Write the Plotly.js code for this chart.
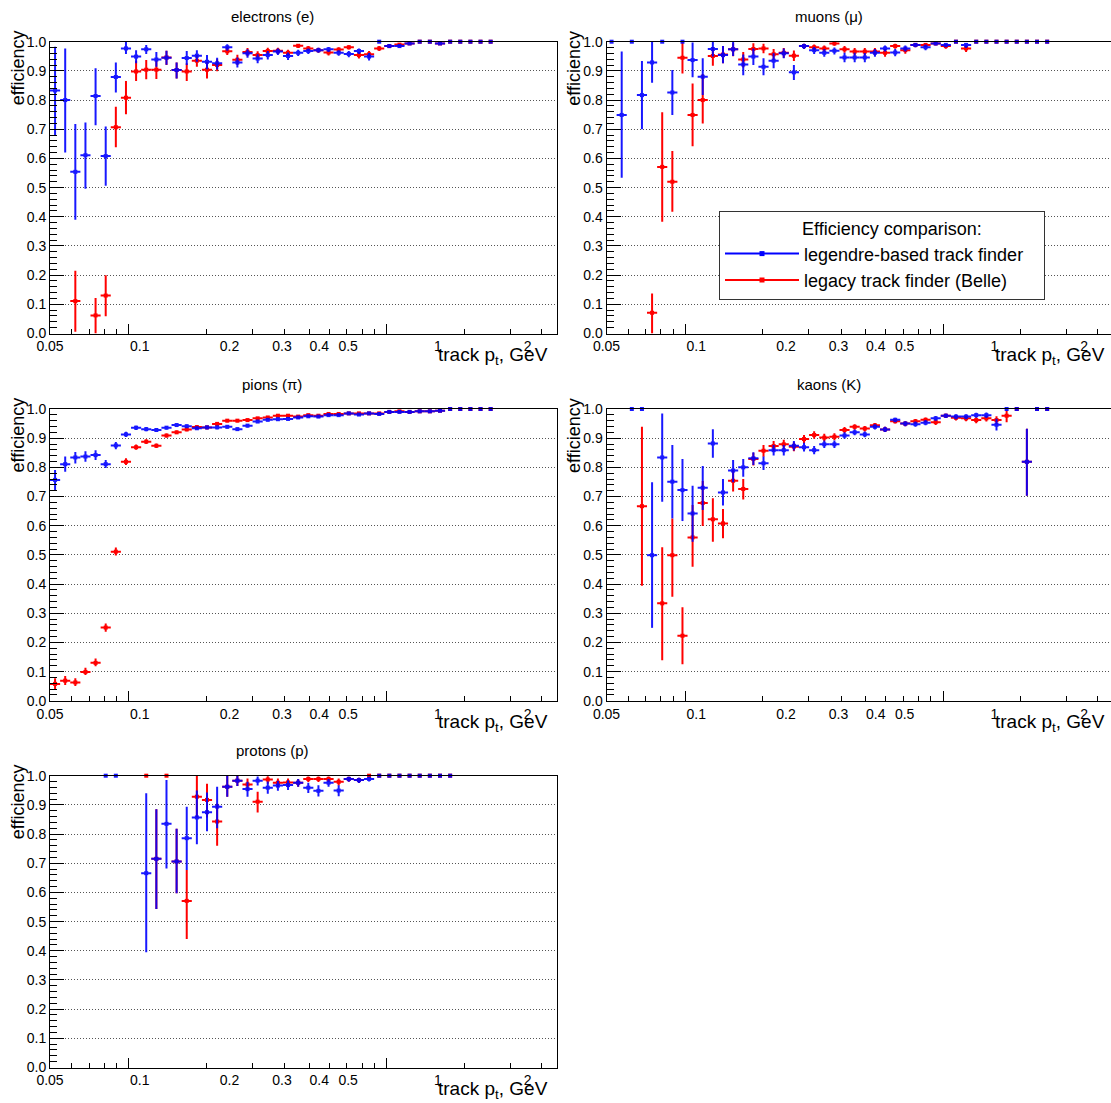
<!DOCTYPE html>
<html><head><meta charset="utf-8">
<script src="https://cdn.plot.ly/plotly-3.0.1.min.js"></script>
<style>html,body{margin:0;padding:0;background:#fff}#chart{width:1111px;height:1103px}</style>
</head><body><div id="chart"></div>
<script>
// ---------- binning (track pt, GeV) ----------
const binEdges = [0.05,0.05407,0.05847,0.06323,0.06837,0.07394,0.07995,0.08646,0.09349,0.1011,
  0.10933,0.11823,0.12785,0.13825,0.1495,0.16167,0.17483,0.18905,0.20444,0.22107,
  0.23906,0.25852,0.27955,0.3023,0.3269,0.3535,0.38227,0.41338,0.44702,0.48339,
  0.52273,0.56527,0.61127,0.661,0.71478,0.77295,0.83584,0.90386,0.97764,1.05723,
  1.14321,1.23622,1.33684,1.44561,1.56325];
const xLabelVals = [0.05,0.1,0.2,0.3,0.4,0.5,1,2];
const xLabelText = ['0.05','0.1','0.2','0.3','0.4','0.5','1','2'];
const xMajorTicks = [0.0917,0.6725];
const xMinorTicks = [0.0592,0.0677,0.0760,0.0838,0.1672,0.238,0.306,0.3696,0.4328,0.4945,0.5573,0.6124,1.2277,1.7466,2.224];

const panelTitles = ['electrons (e)','muons (\u03bc)','pions (\u03c0)','kaons (K)','protons (p)'];
const seriesNames = ['legendre-based track finder','legacy track finder (Belle)'];

// ---------- electrons ----------
const eleLegendreEff = [0.833,0.800,0.554,0.611,0.814,0.608,0.879,0.977,0.949,0.974, 0.939,0.945,0.903,0.944,0.952,0.931,0.926,0.981,0.929,0.960, 0.942,0.954,0.966,0.951,0.962,0.968,0.971,0.974,0.962,0.958, 0.968,0.949,1.0,0.985,0.985,0.994,1.0,1.0,0.994,1.0, 1.0,1.0,1.0,1.0];
const eleLegendreLo = [0.68,0.62,0.39,0.496,0.714,0.506,0.826,0.958,0.926,0.958, 0.914,0.921,0.874,0.92,0.931,0.906,0.905,0.969,0.912,0.945, 0.926,0.939,0.954,0.937,0.951,0.958,0.962,0.965,0.952,0.947, 0.958,0.936,null,0.978,0.978,0.989,null,null,0.989,null, null,null,null,null];
const eleLegendreHi = [0.983,0.977,0.718,0.723,0.909,0.709,0.929,1.0,0.971,0.989, 0.965,0.969,0.929,0.968,0.971,0.954,0.945,0.991,0.946,0.974, 0.957,0.968,0.977,0.963,0.972,0.977,0.979,0.982,0.971,0.968, 0.977,0.961,null,0.991,0.991,0.998,null,null,0.998,null, null,null,null,null];
const eleLegacyEff = [null,null,0.111,null,0.062,0.13,0.707,0.808,0.898,0.904, 0.904,0.946,0.903,0.898,0.935,0.904,0.92,0.967,0.938,0.965, 0.954,0.968,0.969,0.962,0.986,0.977,0.971,0.963,0.973,0.981, 0.954,0.957,0.977,0.985,0.99,0.994,1.0,1.0,0.994,1.0, 1.0,1.0,1.0,1.0];
const eleLegacyLo = [null,null,0.006,null,0.0,0.059,0.638,0.751,0.865,0.871, 0.872,0.92,0.874,0.865,0.914,0.874,0.899,0.954,0.92,0.95, 0.94,0.956,0.958,0.951,0.978,0.968,0.962,0.953,0.964,0.973, 0.942,0.945,0.968,0.978,0.984,0.989,null,null,0.989,null, null,null,null,null];
const eleLegacyHi = [null,null,0.215,null,0.122,0.2,0.777,0.865,0.935,0.937, 0.935,0.969,0.929,0.926,0.954,0.931,0.94,0.983,0.955,0.978, 0.967,0.979,0.979,0.972,0.992,0.985,0.979,0.972,0.981,0.988, 0.965,0.968,0.985,0.991,0.995,0.998,null,null,0.998,null, null,null,null,null];

// ---------- muons ----------
const muLegendreEff = [1.0,0.749,1.0,0.817,0.929,1.0,0.826,1.0,0.937,0.88, 0.975,0.954,0.974,0.922,0.949,0.914,0.935,0.96,0.895,0.985, 0.971,0.962,0.969,0.946,0.946,0.946,0.962,0.977,0.963,0.977, 0.989,0.981,0.994,0.989,1.0,0.989,1.0,1.0,1.0,1.0, 1.0,1.0,1.0,1.0];
const muLegendreLo = [null,0.534,null,0.70,0.859,null,0.749,null,0.878,0.817, 0.949,0.926,0.951,0.885,0.92,0.885,0.909,0.943,0.869,0.975, 0.958,0.948,0.956,0.93,0.93,0.93,0.948,0.966,0.95,0.966, 0.981,0.971,0.988,0.981,null,0.978,null,null,null,null, null,null,null,null];
const muLegendreHi = [null,0.966,null,0.934,1.0,null,0.903,null,0.997,0.943, 1.0,0.985,1.0,0.956,0.977,0.943,0.96,0.977,0.92,0.993, 0.982,0.975,0.98,0.962,0.962,0.961,0.975,0.987,0.975,0.987, 0.995,0.99,0.998,0.995,null,0.995,null,null,null,null, null,null,null,null];
const muLegacyEff = [null,null,null,null,0.071,0.571,0.52,0.945,0.749,0.80, 0.951,0.956,0.974,0.939,0.975,0.977,0.957,0.962,0.952,0.985, 0.981,0.977,0.994,0.974,0.966,0.966,0.966,0.962,0.985,0.971, 0.989,0.989,0.994,0.985,1.0,0.977,1.0,1.0,1.0,1.0, 1.0,1.0,1.0,1.0];
const muLegacyLo = [null,null,null,null,0.0,0.383,0.417,0.891,0.642,0.72, 0.918,0.926,0.95,0.912,0.955,0.96,0.938,0.945,0.934,0.975, 0.97,0.966,0.986,0.962,0.953,0.953,0.953,0.948,0.976,0.959, 0.981,0.981,0.988,0.976,null,0.965,null,null,null,null, null,null,null,null];
const muLegacyHi = [null,null,null,null,0.137,0.758,0.625,1.0,0.857,0.889, 0.982,0.985,0.995,0.965,0.995,0.993,0.975,0.978,0.97,0.993, 0.99,0.987,0.999,0.985,0.978,0.978,0.978,0.975,0.993,0.982, 0.995,0.995,0.998,0.992,null,0.988,null,null,null,null, null,null,null,null];

// ---------- pions ----------
const piLegendreEff = [0.757,0.811,0.834,0.837,0.842,0.811,0.875,0.913,0.936,0.931, 0.928,0.936,0.945,0.941,0.934,0.937,0.937,0.939,0.931,0.943, 0.957,0.963,0.965,0.966,0.971,0.975,0.974,0.979,0.979,0.985, 0.981,0.985,0.983,0.99,0.99,0.99,0.992,0.992,0.994,1.0, 1.0,1.0,1.0,1.0];
const piLegendreLo = [0.719,0.785,0.813,0.819,0.825,0.798,0.862,0.904,0.928,0.924, 0.921,0.93,0.939,0.935,0.928,0.931,0.931,0.933,0.925,0.937, 0.952,0.958,0.96,0.961,0.966,0.971,0.97,0.975,0.975,0.981, 0.977,0.981,0.979,0.987,0.987,0.987,0.989,0.989,0.991,null, null,null,null,null];
const piLegendreHi = [0.791,0.837,0.853,0.855,0.859,0.825,0.887,0.922,0.943,0.938, 0.935,0.942,0.951,0.947,0.94,0.943,0.943,0.945,0.937,0.949, 0.962,0.968,0.97,0.971,0.975,0.979,0.978,0.983,0.983,0.988, 0.985,0.988,0.987,0.993,0.993,0.993,0.995,0.995,0.997,null, null,null,null,null];
const piLegacyEff = [0.058,0.069,0.063,0.099,0.13,0.251,0.511,0.819,0.869,0.888, 0.874,0.909,0.92,0.93,0.938,0.937,0.949,0.96,0.96,0.962, 0.968,0.971,0.977,0.977,0.974,0.979,0.977,0.983,0.983,0.985, 0.985,0.985,0.985,0.99,0.992,0.99,0.992,0.992,0.994,1.0, 1.0,1.0,1.0,1.0];
const piLegacyLo = [0.04,0.054,0.051,0.088,0.118,0.237,0.498,0.808,0.86,0.88, 0.866,0.902,0.914,0.924,0.932,0.931,0.944,0.955,0.955,0.957, 0.964,0.967,0.973,0.973,0.97,0.975,0.973,0.979,0.979,0.981, 0.981,0.981,0.981,0.987,0.989,0.987,0.989,0.989,0.991,null, null,null,null,null];
const piLegacyHi = [0.077,0.085,0.077,0.113,0.145,0.265,0.525,0.831,0.878,0.896, 0.882,0.916,0.926,0.936,0.944,0.943,0.954,0.965,0.965,0.967, 0.972,0.975,0.981,0.981,0.978,0.983,0.981,0.987,0.987,0.989, 0.989,0.989,0.989,0.993,0.995,0.993,0.995,0.995,0.997,null, null,null,null,null];

// ---------- kaons ----------
const kLegendreEff = [null,null,1.0,1.0,0.499,0.834,0.751,0.722,0.642,0.73, 0.882,0.714,0.789,0.80,0.831,0.814,0.859,0.859,0.874,0.869, 0.859,0.879,0.879,0.909,0.92,0.913,0.939,0.93,0.963,0.95, 0.948,0.953,0.968,0.977,0.974,0.974,0.979,0.979,0.946,1.0, 1.0,0.819,1.0,1.0];
const kLegendreLo = [null,null,null,null,0.25,0.682,0.625,0.616,0.545,0.654, 0.833,0.669,0.749,0.768,0.808,0.791,0.841,0.841,0.858,0.854, 0.845,0.866,0.866,0.898,0.91,0.903,0.93,0.921,0.955,0.941, 0.939,0.944,0.96,0.969,0.965,0.965,0.97,0.969,0.926,null, null,0.703,null,null];
const kLegendreHi = [null,null,null,null,0.749,0.985,0.877,0.829,0.737,0.805, 0.931,0.76,0.825,0.829,0.852,0.837,0.877,0.877,0.89,0.884, 0.873,0.892,0.892,0.92,0.93,0.923,0.948,0.939,0.97,0.958, 0.957,0.962,0.976,0.984,0.982,0.982,0.987,0.988,0.967,null, null,0.932,null,null];
const kLegacyEff = [null,null,null,0.667,null,0.334,0.499,0.223,0.56,0.678, 0.622,0.608,0.754,0.726,0.829,0.857,0.873,0.879,0.871,0.897, 0.911,0.902,0.905,0.928,0.939,0.933,0.944,0.93,0.958,0.95, 0.958,0.963,0.955,0.977,0.97,0.968,0.962,0.968,0.962,0.977, 1.0,0.819,1.0,1.0];
const kLegacyLo = [null,null,null,0.394,null,0.139,0.357,0.125,0.459,0.599, 0.545,0.557,0.717,0.69,0.806,0.836,0.855,0.862,0.855,0.883, 0.898,0.889,0.893,0.917,0.929,0.923,0.935,0.921,0.95,0.941, 0.949,0.954,0.945,0.969,0.961,0.958,0.951,0.957,0.948,0.955, null,0.703,null,null];
const kLegacyHi = [null,null,null,0.939,null,0.526,0.625,0.321,0.671,0.753, 0.694,0.657,0.791,0.76,0.85,0.877,0.89,0.895,0.886,0.911, 0.924,0.915,0.917,0.938,0.948,0.942,0.952,0.939,0.966,0.958, 0.966,0.971,0.964,0.984,0.978,0.977,0.972,0.978,0.975,0.995, null,0.932,null,null];

// ---------- protons ----------
const pLegendreEff = [null,null,null,null,null,1.0,1.0,null,null,0.666, 0.715,0.835,0.706,0.786,0.857,0.875,0.894,0.962,0.983,0.954, 0.983,0.959,0.966,0.968,0.976,0.959,0.948,0.976,0.949,0.989, 0.985,0.989,1.0,1.0,1.0,1.0,1.0,1.0,1.0,1.0, null,null,null,null];
const pLegendreLo = [null,null,null,null,null,null,null,null,null,0.395, 0.543,0.682,0.597,0.677,0.765,0.81,0.82,0.928,0.965,0.928, 0.966,0.938,0.948,0.951,0.962,0.941,0.929,0.962,0.93,0.979, 0.975,0.98,null,null,null,null,null,null,null,null, null,null,null,null];
const pLegendreHi = [null,null,null,null,null,null,null,null,null,0.94, 0.885,0.985,0.818,0.894,0.949,0.942,0.962,1.0,1.0,0.979, 0.997,0.98,0.983,0.984,0.989,0.976,0.967,0.989,0.967,0.996, 0.993,0.996,null,null,null,null,null,null,null,null, null,null,null,null];
const pLegacyEff = [null,null,null,null,null,null,null,null,null,1.0, 0.715,1.0,0.706,0.571,0.928,0.917,0.843,0.962,0.983,0.97, 0.911,0.987,0.976,0.977,0.976,0.989,0.989,0.989,0.979,0.989, 0.985,1.0,1.0,1.0,1.0,1.0,1.0,1.0,1.0,1.0, null,null,null,null];
const pLegacyLo = [null,null,null,null,null,null,null,null,null,null, 0.543,null,0.597,0.44,0.857,0.857,0.76,0.928,0.965,0.948, 0.874,0.972,0.961,0.962,0.962,0.978,0.978,0.978,0.966,0.979, 0.975,null,null,null,null,null,null,null,null,null, null,null,null,null];
const pLegacyHi = [null,null,null,null,null,null,null,null,null,null, 0.885,null,0.818,0.677,1.0,0.972,0.905,1.0,1.0,0.99, 0.945,0.998,0.99,0.99,0.989,0.997,0.997,0.997,0.99,0.996, 0.993,null,null,null,null,null,null,null,null,null, null,null,null,null];

// ---------- drawing ----------
const FONT = 'Liberation Sans, Arial, Helvetica, sans-serif';
const BLUE = '#0000ff', RED = '#ff0000';
const W = 1111, H = 1103;

function effTrace(eff, lo, hi, color, xa, ya, opacity) {
  const x = [], y = [], ex = [], exm = [], ey = [], eym = [];
  for (let i = 0; i < eff.length; i++) {
    if (eff[i] === null) continue;
    const l = binEdges[i], h = binEdges[i + 1], c = Math.sqrt(l * h);
    const has = lo[i] !== null;
    x.push(c); y.push(eff[i]);
    ex.push(has ? h - c : 0); exm.push(has ? c - l : 0);
    ey.push(has ? hi[i] - eff[i] : 0); eym.push(has ? eff[i] - lo[i] : 0);
  }
  return {
    type: 'scatter', mode: 'markers', x, y, xaxis: xa, yaxis: ya,
    marker: {symbol: 'square', size: 4, color},
    error_x: {type: 'data', symmetric: false, array: ex, arrayminus: exm, color, thickness: 2, width: 0},
    error_y: {type: 'data', symmetric: false, array: ey, arrayminus: eym, color, thickness: 2, width: 0},
    cliponaxis: false, showlegend: false, hoverinfo: 'skip', opacity
  };
}

const panels = [
  {leg: [eleLegendreEff, eleLegendreLo, eleLegendreHi], old: [eleLegacyEff, eleLegacyLo, eleLegacyHi], col: 0, row: 0},
  {leg: [muLegendreEff, muLegendreLo, muLegendreHi], old: [muLegacyEff, muLegacyLo, muLegacyHi], col: 1, row: 0},
  {leg: [piLegendreEff, piLegendreLo, piLegendreHi], old: [piLegacyEff, piLegacyLo, piLegacyHi], col: 0, row: 1},
  {leg: [kLegendreEff, kLegendreLo, kLegendreHi], old: [kLegacyEff, kLegacyLo, kLegacyHi], col: 1, row: 1},
  {leg: [pLegendreEff, pLegendreLo, pLegendreHi], old: [pLegacyEff, pLegacyLo, pLegacyHi], col: 0, row: 2}
];

// frame geometry in pixels
const colLeft = [50, 606.5], frameW = 506.5;
const rowTop = [41.7, 409, 775.7], frameH = 291.8;
const logLo = Math.log10(0.05), logHi = Math.log10(2.5);

const data = [];
const layout = {
  width: W, height: H, margin: {l: 0, r: 0, t: 0, b: 0, autoexpand: false},
  paper_bgcolor: '#fff', plot_bgcolor: '#fff',
  font: {family: FONT, color: '#000'},
  showlegend: true,
  legend: {
    x: 719 / W, y: 1 - 211 / H, xanchor: 'left', yanchor: 'top',
    bgcolor: '#fff', bordercolor: '#333', borderwidth: 1,
    font: {family: FONT, size: 18, color: '#000'},
    itemwidth: 74, tracegroupgap: 0,
    title: {text: '\u00a0'.repeat(16) + 'Efficiency comparison:', font: {family: FONT, size: 18, color: '#000'}, side: 'top'}
  },
  annotations: []
};

panels.forEach((p, k) => {
  const n = k + 1, sfx = n === 1 ? '' : String(n);
  const xa = 'x' + sfx, ya = 'y' + sfx;
  const left = colLeft[p.col], right = Math.min(left + frameW, W);
  const top = rowTop[p.row], bottom = top + frameH;
  const rangeHi = logLo + (right - left) / frameW * (logHi - logLo);
  const xdom = [left / W, right / W];
  const ydom = [1 - bottom / H, 1 - top / H];

  data.push(effTrace(p.old[0], p.old[1], p.old[2], RED, xa, ya, 1));
  data.push(effTrace(p.leg[0], p.leg[1], p.leg[2], BLUE, xa, ya, 0.9));

  layout['xaxis' + sfx] = {
    type: 'log', domain: xdom, range: [logLo, rangeHi], anchor: ya,
    tickmode: 'array', tickvals: xLabelVals, ticktext: xLabelText, ticks: '', tickangle: 0,
    minor: {tickmode: 'array', tickvals: xMinorTicks, ticks: 'inside', ticklen: 5, tickcolor: '#000', tickwidth: 1, showgrid: false},
    showgrid: false, zeroline: false, showline: true, mirror: true, linecolor: '#000', linewidth: 1,
    tickfont: {family: FONT, size: 14, color: '#000'}, fixedrange: true
  };
  // overlay axis carrying the long tick marks
  const ox = 'x' + (n + 5);
  layout['xaxis' + (n + 5)] = {
    type: 'log', overlaying: xa, anchor: ya, range: [logLo, rangeHi], side: 'bottom',
    tickmode: 'array', tickvals: xMajorTicks, showticklabels: false,
    ticks: 'inside', ticklen: 10, tickcolor: '#000', tickwidth: 1,
    showgrid: false, zeroline: false, showline: false, fixedrange: true
  };
  data.push({type: 'scatter', mode: 'markers', x: [null], y: [null], xaxis: ox, yaxis: ya, showlegend: false, hoverinfo: 'skip'});

  layout['yaxis' + sfx] = {
    domain: ydom, range: [0, 1], anchor: xa,
    tickmode: 'linear', tick0: 0, dtick: 0.1, tickformat: '.1f',
    ticks: 'inside', ticklen: 14, tickcolor: '#000', tickwidth: 1,
    minor: {dtick: 0.02, ticks: 'inside', ticklen: 7, tickcolor: '#000', tickwidth: 1, showgrid: false},
    showgrid: true, gridcolor: '#555', griddash: '1px,2px', gridwidth: 1,
    zeroline: false, showline: true, mirror: true, linecolor: '#000', linewidth: 1,
    tickfont: {family: FONT, size: 14, color: '#000'}, fixedrange: true
  };

  const off = p.col === 0 ? 0 : 556.5;
  layout.annotations.push(
    {text: panelTitles[k], xref: 'paper', yref: 'paper', x: (272 + off) / W, y: 1 - (top - 25) / H,
     xanchor: 'center', yanchor: 'middle', showarrow: false, font: {family: FONT, size: 15, color: '#000'}},
    {text: 'efficiency', xref: 'paper', yref: 'paper', x: (18 + off) / W, y: 1 - (top - 13) / H,
     xanchor: 'center', yanchor: 'top', textangle: -90, showarrow: false, font: {family: FONT, size: 18, color: '#000'}},
    {text: 'track p<sub>t</sub>, GeV', xref: 'paper', yref: 'paper', x: (550 + off) / W, y: 1 - (bottom + 22) / H,
     xanchor: 'right', yanchor: 'middle', showarrow: false, font: {family: FONT, size: 19, color: '#000'}}
  );
});

// legend entries (line + square marker, as in the reference legend)
data.push({type: 'scatter', mode: 'lines+markers', name: seriesNames[0] + '\u00a0\u00a0\u00a0', x: [null], y: [null], xaxis: 'x2', yaxis: 'y2',
  line: {color: BLUE, width: 2}, marker: {symbol: 'square', size: 5, color: BLUE}, hoverinfo: 'skip'});
data.push({type: 'scatter', mode: 'lines+markers', name: seriesNames[1], x: [null], y: [null], xaxis: 'x2', yaxis: 'y2',
  line: {color: RED, width: 2}, marker: {symbol: 'square', size: 5, color: RED}, hoverinfo: 'skip'});

Plotly.newPlot('chart', data, layout, {displayModeBar: false, staticPlot: true});
</script>
</body></html>
